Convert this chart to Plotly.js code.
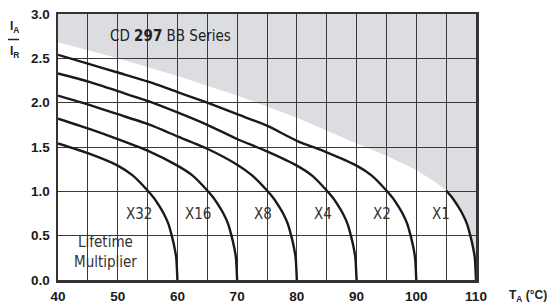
<!DOCTYPE html>
<html><head><meta charset="utf-8">
<script src="https://cdn.plot.ly/plotly-3.0.1.min.js"></script>
<style>html,body{margin:0;padding:0;background:#fff;}#chart{width:557px;height:304px;}</style>
</head><body><div id="chart"></div>
<script>
// Curves (T in °C, IA/IR)
const x32T = [40, 45, 50, 52.5, 55, 56, 57, 57.7, 58.5, 59.05, 59.5, 59.8, 60];
const x32Y = [1.54, 1.43, 1.29, 1.18, 1.01, 0.93, 0.83, 0.75, 0.63, 0.5, 0.37, 0.25, 0];
const x16T = [40, 45, 50, 55, 60, 62.5, 65, 66, 67, 67.7, 68.5, 69.05, 69.5, 69.8, 70];
const x16Y = [1.82, 1.71, 1.59, 1.46, 1.29, 1.18, 1.01, 0.93, 0.83, 0.75, 0.63, 0.5, 0.37, 0.25, 0];
const x8T = [40, 45, 50, 55, 60, 65, 70, 72.5, 75, 76, 77, 77.7, 78.5, 79.05, 79.5, 79.8, 80];
const x8Y = [2.08, 1.98, 1.87, 1.76, 1.62, 1.48, 1.30, 1.18, 1.01, 0.93, 0.83, 0.75, 0.63, 0.5, 0.37, 0.25, 0];
const x4T = [40, 45, 50, 55, 60, 65, 70, 75, 80, 82.5, 85, 86, 87, 87.7, 88.5, 89.05, 89.5, 89.8, 90];
const x4Y = [2.33, 2.24, 2.13, 2.02, 1.89, 1.75, 1.59, 1.45, 1.29, 1.18, 1.01, 0.93, 0.83, 0.75, 0.63, 0.5, 0.37, 0.25, 0];
const x2T = [40, 45, 50, 55, 60, 65, 70, 75, 80, 85, 90, 92.5, 95, 96, 97, 97.7, 98.5, 99.05, 99.5, 99.8, 100];
const x2Y = [2.54, 2.44, 2.34, 2.24, 2.12, 2.0, 1.87, 1.74, 1.57, 1.44, 1.29, 1.18, 1.01, 0.93, 0.83, 0.75, 0.63, 0.5, 0.37, 0.25, 0];
const x1T = [105, 106, 107, 107.7, 108.5, 109.05, 109.5, 109.8, 110];
const x1Y = [1.01, 0.93, 0.83, 0.75, 0.63, 0.5, 0.37, 0.25, 0];

// Grey region lower boundary
const edgeT = [40, 50, 60, 70, 80, 90, 95, 100, 103, 105, 106, 107, 107.7, 108.5, 109.05, 109.5, 109.8, 110];
const edgeY = [2.68, 2.5, 2.3, 2.08, 1.83, 1.54, 1.40, 1.24, 1.11, 1.01, 0.93, 0.83, 0.75, 0.63, 0.5, 0.37, 0.25, 0];

// Labels
const labelText = ['X32', 'X16', 'X8', 'X4', 'X2', 'X1'];
const labelT = [53.5, 63.5, 74.4, 84.4, 94.2, 104.2];
const labelY = [0.75, 0.75, 0.75, 0.75, 0.75, 0.75];

const xTicks = [40, 50, 60, 70, 80, 90, 100, 110];
const yTicks = [0, 0.5, 1.0, 1.5, 2.0, 2.5, 3.0];

const curves = [[x32T, x32Y], [x16T, x16Y], [x8T, x8Y], [x4T, x4Y], [x2T, x2Y], [x1T, x1Y]];
const traces = curves.map(c => ({
  x: c[0], y: c[1], type: 'scatter', mode: 'lines',
  line: {color: '#1a1a1a', width: 2.4, shape: 'spline', smoothing: 0.6},
  hoverinfo: 'skip', showlegend: false
}));

// Build grey path in data coordinates
let path = 'M ' + edgeT[0] + ',3';
for (let i = 0; i < edgeT.length; i++) path += ' L ' + edgeT[i] + ',' + edgeY[i];
path += ' L 110,3 Z';

const condFont = (size, color) => ({family: '"DejaVu Sans Condensed", "Liberation Sans Narrow", "DejaVu Sans"', size: size, color: color});
const annotations = labelText.map((t, i) => ({
  x: labelT[i], y: labelY[i], xref: 'x', yref: 'y', text: t, showarrow: false,
  font: condFont(15, '#333')
}));
annotations.push({
  x: 47.9, y: 0.32, xref: 'x', yref: 'y', text: 'Lifetime<br>Multiplier', showarrow: false,
  font: condFont(15, '#333'), align: 'center'
});
annotations.push({
  x: 58.8, y: 2.75, xref: 'x', yref: 'y', text: 'CD <b>297</b> BB Series', showarrow: false,
  font: condFont(15, '#222')
});
annotations.push({
  x: 14, y: 27, xref: 'paper', yref: 'paper', xanchor: 'center', yanchor: 'middle',
  text: '<b>I<sub>A</sub></b>', showarrow: false, font: {family: 'Liberation Sans, Arial', size: 12, color: '#222'}
});
annotations.push({
  x: 14, y: 52, xref: 'paper', yref: 'paper', xanchor: 'center', yanchor: 'middle',
  text: '<b>I<sub>R</sub></b>', showarrow: false, font: {family: 'Liberation Sans, Arial', size: 12, color: '#222'}
});
annotations.push({
  x: 528, y: 296, xref: 'paper', yref: 'paper', xanchor: 'center', yanchor: 'middle',
  text: '<b>T<sub>A</sub> (°C)</b>', showarrow: false, font: {family: 'Liberation Sans, Arial', size: 12, color: '#222'}
});

// convert pixel positions to paper coords
const W = 557, H = 304, mL = 58, mR = 81, mT = 14, mB = 24;
const pw = W - mL - mR, ph = H - mT - mB;
annotations.forEach(a => {
  if (a.xref === 'paper') {
    a.x = (a.x - mL) / pw;
    a.y = 1 - (a.y - mT) / ph;
  }
});

const tickFont = {family: 'Liberation Sans, Arial', size: 13.5, color: '#1a1a1a'};
const layout = {
  width: W, height: H,
  margin: {l: mL, r: mR, t: mT, b: mB, pad: 0},
  paper_bgcolor: '#fff', plot_bgcolor: '#fff',
  showlegend: false,
  xaxis: {
    range: [40, 110], tickvals: xTicks, ticktext: xTicks.map(v => '<b>' + v + '</b>'),
    showgrid: true, gridcolor: '#3a3a3a', gridwidth: 1,
    minor: {dtick: 5, tick0: 40, showgrid: true, gridcolor: '#3a3a3a', gridwidth: 1},
    showline: true, linecolor: '#333', linewidth: 2.5, mirror: true,
    ticks: '', zeroline: false, fixedrange: true, ticklabelstandoff: 2,
    tickfont: tickFont
  },
  yaxis: {
    range: [0, 3], tickvals: yTicks, ticktext: yTicks.map(v => '<b>' + v.toFixed(1) + '</b>'),
    showgrid: true, gridcolor: '#3a3a3a', gridwidth: 1,
    showline: true, linecolor: '#333', linewidth: 2.5, mirror: true,
    ticks: '', zeroline: false, fixedrange: true, ticklabelstandoff: 3,
    tickfont: tickFont
  },
  shapes: [
    {type: 'path', xref: 'x', yref: 'y', path: path, fillcolor: '#dcdde0', line: {width: 0}, layer: 'below'},
    {type: 'line', xref: 'paper', yref: 'paper', x0: (8 - mL) / pw, x1: (19 - mL) / pw,
     y0: 1 - (39.5 - mT) / ph, y1: 1 - (39.5 - mT) / ph, line: {color: '#222', width: 1.5}}
  ],
  annotations: annotations
};

Plotly.newPlot('chart', traces, layout, {staticPlot: true, displayModeBar: false});
</script>
</body></html>
